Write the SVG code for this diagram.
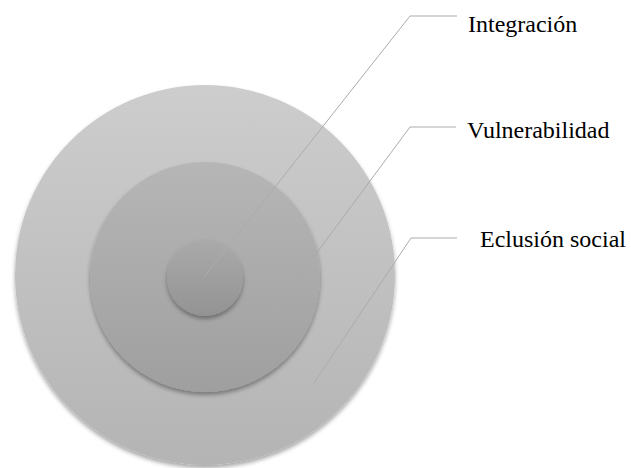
<svg xmlns="http://www.w3.org/2000/svg" width="631" height="468" viewBox="0 0 631 468">
<style>
.lead{fill:none;stroke:#ababab;stroke-width:1}
text{font-family:'Liberation Serif','Times New Roman','DejaVu Serif',serif;font-size:24px;fill:#000}
</style>
<defs>
<linearGradient id="gOuter" x1="0" y1="0" x2="0" y2="1">
<stop offset="0" stop-color="#cdcdcd"/><stop offset="1" stop-color="#b4b4b4"/>
</linearGradient>
<linearGradient id="gMid" x1="0" y1="0" x2="0" y2="1">
<stop offset="0" stop-color="#b6b6b6"/><stop offset="1" stop-color="#9f9f9f"/>
</linearGradient>
<linearGradient id="gIn" x1="0" y1="0" x2="0" y2="1">
<stop offset="0" stop-color="#aaaaaa"/><stop offset="1" stop-color="#939393"/>
</linearGradient>
<filter id="sh" x="-20%" y="-20%" width="140%" height="140%">
<feDropShadow dx="0" dy="3" stdDeviation="2" flood-color="#000" flood-opacity="0.35"/>
</filter>
</defs>
<g id="outer"><circle cx="205" cy="275" r="190" fill="url(#gOuter)" filter="url(#sh)"/></g>
<g id="middle"><circle cx="205" cy="277" r="115" fill="url(#gMid)" filter="url(#sh)"/></g>
<g id="inner"><circle cx="205" cy="278" r="38" fill="url(#gIn)" filter="url(#sh)"/></g>
<g id="connectors">
<path class="lead" d="M204,277 L410,16 L457,16"/>
<path class="lead" d="M267,320 L410,127 L456,127"/>
<path class="lead" d="M314,383 L411,238 L457,238"/>
</g>
<g id="labels">
<text x="468" y="32" font-family="Liberation Serif, serif">Integración</text>
<text x="467" y="138" font-family="Liberation Serif, serif">Vulnerabilidad</text>
<text x="480" y="247" font-family="Liberation Serif, serif">Eclusión social</text>
</g>
</svg>
